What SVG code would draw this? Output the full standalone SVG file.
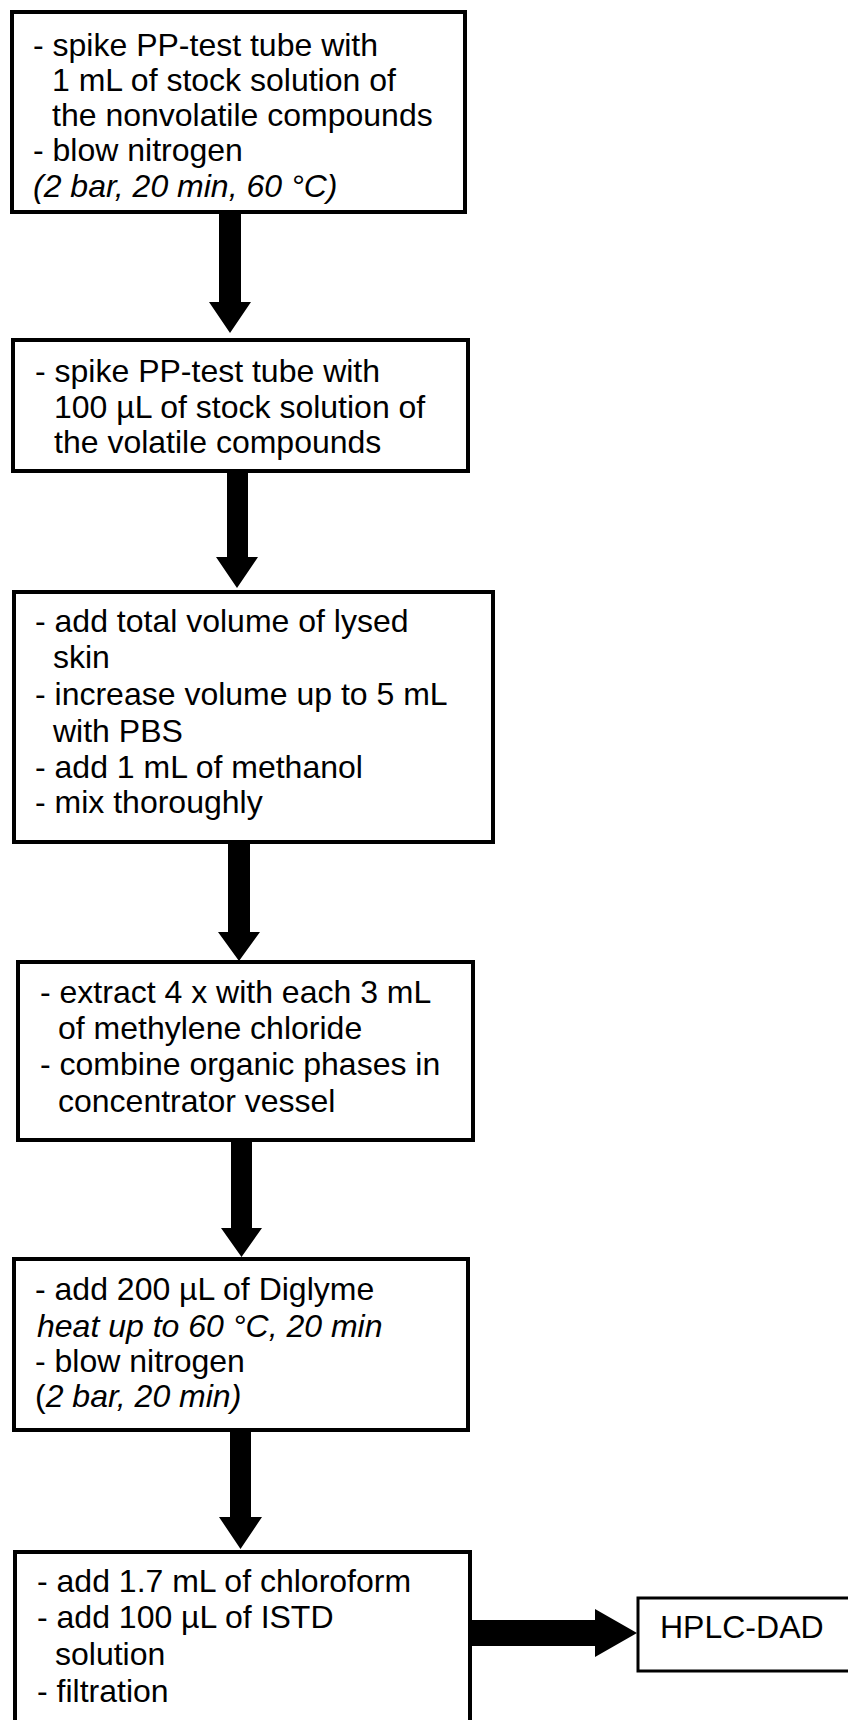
<svg xmlns="http://www.w3.org/2000/svg" width="848" height="1720" viewBox="0 0 848 1720">
<style>
.box{fill:#fff;stroke:#000;stroke-width:4}
.box2{fill:#fff;stroke:#000;stroke-width:3}
text{font-family:"Liberation Sans",Arial,sans-serif;font-size:32px;fill:#000}
.i{font-style:italic}
.arr{fill:#000}
</style>
<rect width="848" height="1720" fill="#fff"/>
<g id="connectors">
<polygon class="arr" points="219,212 241,212 241,302 251,302 230,333 209,302 219,302"/>
<polygon class="arr" points="227,471 248,471 248,557 258,557 237,588 216,557 227,557"/>
<polygon class="arr" points="228,842 250,842 250,932 260,932 239,961 218,932 228,932"/>
<polygon class="arr" points="231,1141 252,1141 252,1228 262,1228 241.5,1257 221,1228 231,1228"/>
<polygon class="arr" points="230,1431 251,1431 251,1517 262,1517 240.5,1549 219,1517 230,1517"/>
<polygon class="arr" points="470,1620 595,1620 595,1609 637,1633 595,1657 595,1646 470,1646"/>
</g>
<g id="n1">
<rect class="box" x="12" y="12" width="453" height="200"/>
<text x="33" y="56">- spike PP-test tube with</text>
<text x="52" y="91">1 mL of stock solution of</text>
<text x="52" y="126">the nonvolatile compounds</text>
<text x="33" y="161">- blow nitrogen</text>
<text x="33" y="197" class="i">(2 bar, 20 min, 60 °C)</text>
</g>
<g id="n2">
<rect class="box" x="13" y="340" width="455" height="131"/>
<text x="35" y="382">- spike PP-test tube with</text>
<text x="54" y="418">100 µL of stock solution of</text>
<text x="54" y="453">the volatile compounds</text>
</g>
<g id="n3">
<rect class="box" x="14" y="592" width="479" height="250"/>
<text x="35" y="632">- add total volume of lysed</text>
<text x="53" y="668">skin</text>
<text x="35" y="705">- increase volume up to 5 mL</text>
<text x="53" y="742">with PBS</text>
<text x="35" y="778">- add 1 mL of methanol</text>
<text x="35" y="813">- mix thoroughly</text>
</g>
<g id="n4">
<rect class="box" x="18" y="962" width="455" height="178"/>
<text x="40" y="1003">- extract 4 x with each 3 mL</text>
<text x="58" y="1039">of methylene chloride</text>
<text x="40" y="1075">- combine organic phases in</text>
<text x="58" y="1112">concentrator vessel</text>
</g>
<g id="n5">
<rect class="box" x="14" y="1259" width="454" height="171"/>
<text x="35" y="1300">- add 200 µL of Diglyme</text>
<text x="37" y="1337" class="i">heat up to 60 °C, 20 min</text>
<text x="35" y="1372">- blow nitrogen</text>
<text x="35" y="1407">(<tspan class="i">2 bar, 20 min)</tspan></text>
</g>
<g id="n6">
<rect class="box" x="15" y="1552" width="455" height="200"/>
<text x="37" y="1592">- add 1.7 mL of chloroform</text>
<text x="37" y="1628">- add 100 µL of ISTD</text>
<text x="55" y="1665">solution</text>
<text x="37" y="1702">- filtration</text>
</g>
<g id="n7">
<rect class="box2" x="638" y="1598" width="230" height="73"/>
<text x="660" y="1638">HPLC-DAD</text>
</g>
</svg>
